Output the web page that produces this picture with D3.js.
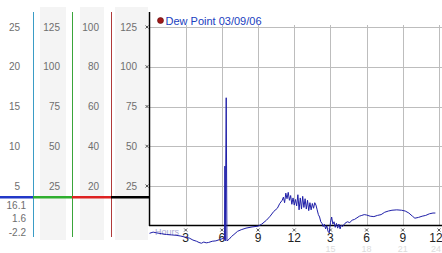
<!DOCTYPE html>
<html>
<head>
<meta charset="utf-8">
<script src="https://cdn.jsdelivr.net/npm/d3@7"></script>
<style>
  html, body { margin: 0; padding: 0; background: #fff; }
  svg { display: block; }
</style>
</head>
<body>
<svg id="chart" width="442" height="253"></svg>
<script>
//
// Data
//

// Hours since midnight, and dew point in deg C
const hours = [
  0.0, 0.3, 0.6, 1.0, 1.4, 1.8, 2.2, 2.6, 3.0, 3.3, 3.6, 3.9, 4.1, 4.3, 4.5, 4.7, 4.9, 5.2, 5.5, 5.8,
  6.1, 6.22, 6.25, 6.28, 6.36, 6.42, 6.6, 6.8, 7.0, 7.3, 7.6, 8.0, 8.5, 9.0, 9.3, 9.7, 10.0, 10.3, 10.6, 10.8,
  11.0, 11.1, 11.2, 11.3, 11.4, 11.5, 11.6, 11.7, 11.8, 11.9, 12.0, 12.1, 12.2, 12.3, 12.4, 12.5, 12.6, 12.7,
  12.8, 12.9, 13.0, 13.1, 13.2, 13.3, 13.4, 13.5, 13.6, 13.7, 13.8, 13.9, 14.0, 14.1, 14.2, 14.3, 14.4, 14.5,
  14.6, 14.7, 14.8, 14.9, 15.0, 15.1, 15.2, 15.3, 15.4, 15.5, 15.6, 15.7, 15.8, 15.9, 16.0, 16.2, 16.4, 16.6,
  16.8, 17.0, 17.2, 17.4, 17.6, 17.8, 18.0, 18.3, 18.6, 18.9, 19.2, 19.5, 19.8, 20.1, 20.5, 20.9, 21.2, 21.5,
  21.8, 22.0, 22.3, 22.6, 22.9, 23.2, 23.5, 23.7
];
const dewPoint = [
  -0.95, -0.8, -0.9, -1.0, -1.1, -1.15, -1.2, -1.3, -1.45, -1.55, -1.8, -1.95, -2.1, -2.2, -2.05, -2.15, -2.1, -1.95, -1.9, -1.75,
  -1.6, -1.7, 7.5, -1.9, 16.1, -1.9, -1.7, -1.35, -1.1, -0.7, -0.5, -0.3, -0.15, -0.05, 0.2, 0.7, 1.2, 1.8, 2.2, 2.8,
  3.2, 3.6, 2.9, 4.1, 3.4, 4.2, 3.2, 3.8, 2.7, 3.5, 2.6, 3.3, 2.5, 3.9, 2.0, 3.5, 2.1, 3.7,
  2.3, 3.4, 2.1, 3.2, 1.9, 2.9, 2.0, 2.8, 2.2, 2.9, 2.6, 2.0, 1.4, 1.1, 0.5, 0.3, -0.1, 0.2,
  -0.4, 0.0, -0.7, -0.9, 0.4, 1.1, 0.2, 0.5, -0.2, 0.3, -0.3, 0.2, -0.4, 0.1, -0.1, 0.3, 0.5, 0.4,
  0.7, 0.8, 1.0, 1.2, 1.3, 1.4, 1.35, 1.2, 1.15, 1.3, 1.4, 1.7, 1.85, 1.95, 2.0, 1.95, 1.85, 1.6,
  1.2, 0.95, 1.05, 1.2, 1.3, 1.5, 1.6, 1.6
];

// Left hand axis columns (top to bottom)
const celsiusTicks = [25, 20, 15, 10, 5];
const fahrenheitTicks = [125, 100, 75, 50, 25];
const humidityTicks = [100, 80, 60, 40, 20];
const plotTicks = [125, 100, 75, 50, 25];

// Max, current, min
const stats = ['16.1', '1.6', '-2.2'];
const refLevel = 3.6; // level of the coloured marker bar, deg C

const xTicks = [3, 6, 9, 12, 15, 18, 21, 24];
const xLabels = ['3', '6', '9', '12', '3', '6', '9', '12'];
const xLabels24 = ['', '', '', '', '15', '18', '21', '24'];

const legendLabel = 'Dew Point 03/09/06';

//
// Chart
//

const svg = d3.select('#chart');
const font = '"Liberation Sans", Arial, sans-serif';
const width = 442;

const x = d3.scaleLinear().domain([0, 24]).range([149.5, 439]);
const y = d3.scaleLinear().domain([0, 25]).range([225.75, 27]);
const yF = d3.scaleLinear().domain([0, 125]).range([225.75, 27]);
const yH = d3.scaleLinear().domain([0, 100]).range([225.75, 27]);

// keep the last hour label inside the picture
const labelX = d => Math.min(x(d), width - 6);

// grey bands behind the axis columns
[[40, 66], [80, 104], [115, 148]].forEach(([a, b]) => {
  svg.append('rect').attr('x', a).attr('y', 7).attr('width', b - a).attr('height', 233)
    .attr('fill', '#f4f4f4');
});

// column separators
[[33.5, '#3a9cc6'], [72.5, '#3aa53a'], [111.5, '#b03a3a']].forEach(([cx, c]) => {
  svg.append('line').attr('x1', cx).attr('x2', cx).attr('y1', 12).attr('y2', 237)
    .attr('stroke', c).attr('stroke-width', 1);
});

// axis column labels
function column(ticks, scale, right) {
  svg.append('g').selectAll('text').data(ticks).join('text')
    .attr('x', right).attr('y', d => scale(d)).attr('dy', '0.36em')
    .attr('text-anchor', 'end')
    .style('font', '10px ' + font).attr('fill', '#6e6e6e')
    .text(d => d);
}
column(celsiusTicks, y, 20);
column(fahrenheitTicks, yF, 60);
column(humidityTicks, yH, 99);
column(plotTicks, yF, 137);

// stats under the first column
svg.append('g').selectAll('text').data(stats).join('text')
  .attr('x', 26).attr('y', (d, i) => 205 + i * 13.5).attr('dy', '0.36em')
  .attr('text-anchor', 'end')
  .style('font', '10px ' + font).attr('fill', '#6e6e6e')
  .text(d => d);

// grid
const grid = svg.append('g').attr('stroke', '#bdbdbd').attr('stroke-width', 1);
grid.selectAll('line.h').data(plotTicks).join('line').attr('class', 'h')
  .attr('x1', 150).attr('x2', width)
  .attr('y1', d => Math.round(yF(d)) + 0.5).attr('y2', d => Math.round(yF(d)) + 0.5);
grid.selectAll('line.v').data(xTicks).join('line').attr('class', 'v')
  .attr('x1', d => Math.round(x(d)) + 0.5).attr('x2', d => Math.round(x(d)) + 0.5)
  .attr('y1', 25).attr('y2', 225);

// plot frame
svg.append('line').attr('x1', 149.5).attr('x2', 149.5).attr('y1', 12).attr('y2', 226)
  .attr('stroke', '#000').attr('stroke-width', 1.5);
svg.append('line').attr('x1', 149).attr('x2', width).attr('y1', 225.5).attr('y2', 225.5)
  .attr('stroke', '#000').attr('stroke-width', 1.5);

// coloured marker bar
const yRef = y(refLevel);
[[0, 33, '#2238c8'], [33, 72, '#2fae2f'], [72, 111, '#dd2222'], [111, 149, '#000']].forEach(([a, b, c]) => {
  svg.append('line').attr('x1', a).attr('x2', b).attr('y1', yRef).attr('y2', yRef)
    .attr('stroke', c).attr('stroke-width', 2.5);
});

// small tick crosses
function cross(cx, cy) {
  svg.append('path')
    .attr('d', `M${cx - 1.5},${cy - 1.5}L${cx + 1.5},${cy + 1.5}M${cx + 1.5},${cy - 1.5}L${cx - 1.5},${cy + 1.5}`)
    .attr('stroke', '#444').attr('stroke-width', 0.9).attr('fill', 'none');
}
plotTicks.forEach(d => cross(147, yF(d)));
xTicks.forEach(d => cross(x(d), 230));

// "Hours" caption
svg.append('text').attr('x', 155).attr('y', 235)
  .style('font', '9px ' + font).attr('fill', '#a9a9d2')
  .text('Hours');

// x labels
svg.append('g').selectAll('text').data(xTicks).join('text')
  .attr('x', labelX).attr('y', 241.5)
  .attr('text-anchor', 'middle')
  .style('font', '12px ' + font).attr('fill', '#222')
  .text((d, i) => xLabels[i]);
svg.append('g').selectAll('text').data(xTicks).join('text')
  .attr('x', labelX).attr('y', 251.5)
  .attr('text-anchor', 'middle')
  .style('font', '9px ' + font).attr('fill', '#dcdcdc')
  .text((d, i) => xLabels24[i]);

// dew point line
const line = d3.line().x((d, i) => x(hours[i])).y(d => y(d));
svg.append('path').datum(dewPoint)
  .attr('d', line)
  .attr('fill', 'none').attr('stroke', '#1f1fa8').attr('stroke-width', 1);

// legend
svg.append('circle').attr('cx', 160.5).attr('cy', 20.5).attr('r', 3)
  .attr('fill', '#a01818').attr('stroke', '#5a0a0a').attr('stroke-width', 0.6);
svg.append('text').attr('x', 165.5).attr('y', 24.5)
  .style('font', '11px ' + font).attr('fill', '#2040c0')
  .text(legendLabel);
</script>
</body>
</html>
